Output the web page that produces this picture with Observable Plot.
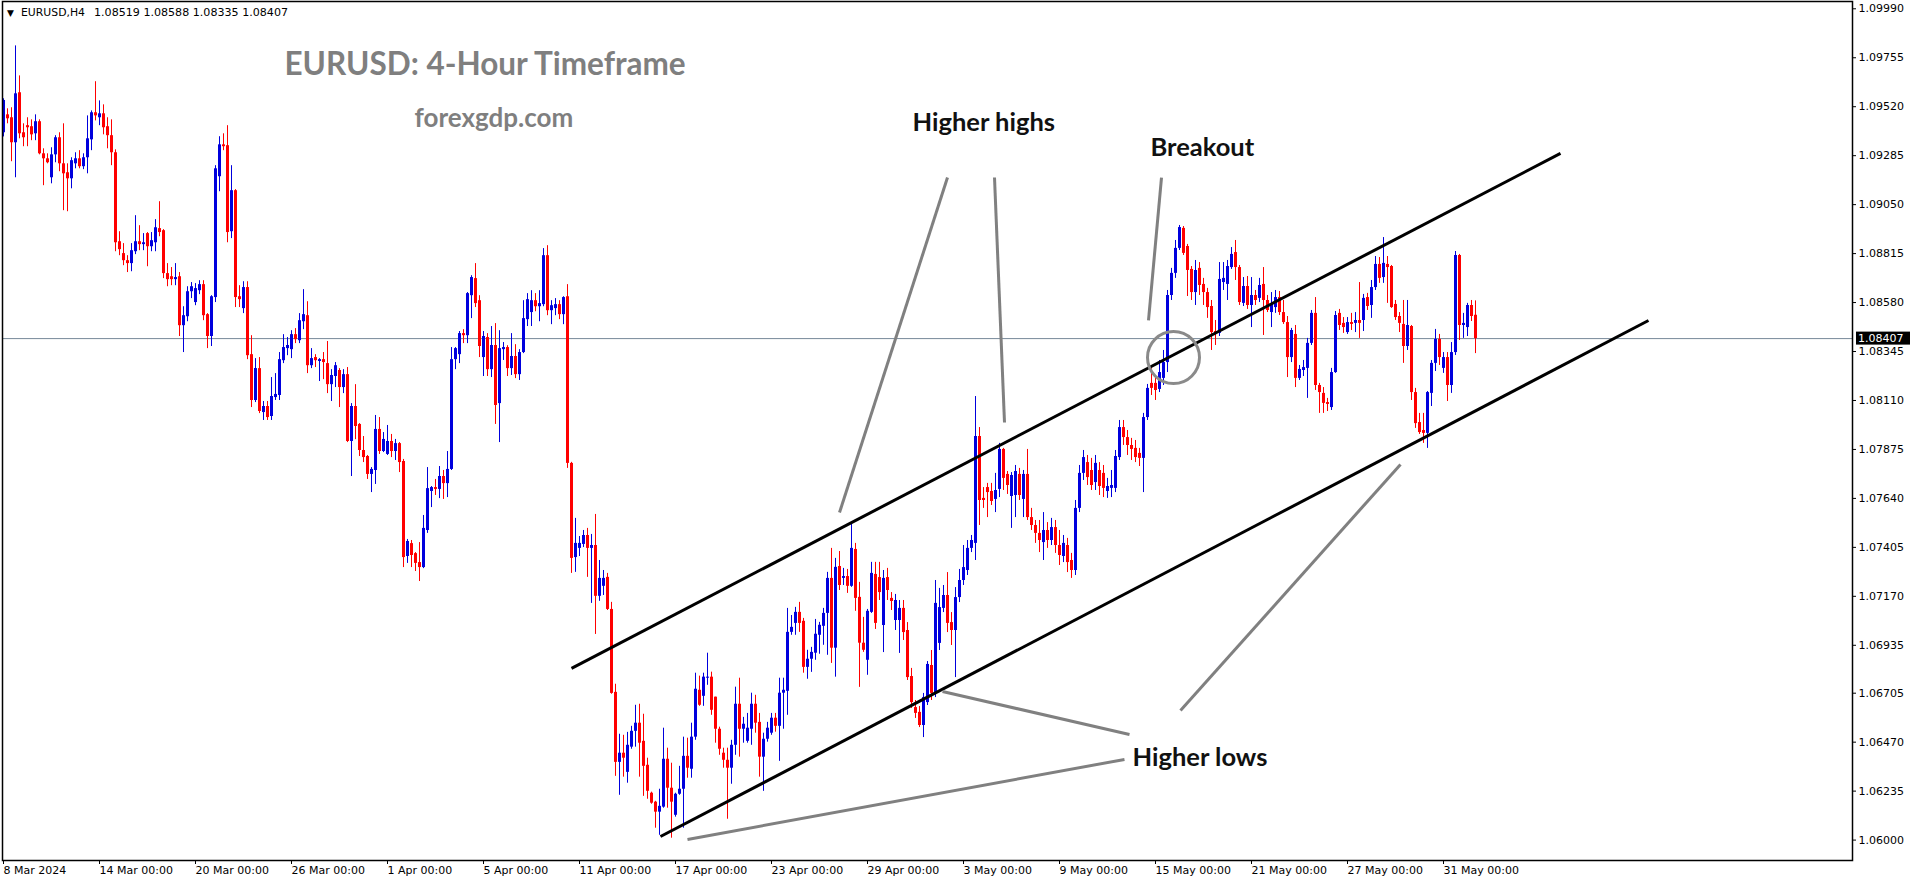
<!DOCTYPE html>
<html><head><meta charset="utf-8">
<script src="https://cdn.jsdelivr.net/npm/d3@7"></script>
<script src="https://cdn.jsdelivr.net/npm/@observablehq/plot@0.6"></script>
<style>html,body{margin:0;padding:0;background:#fff;overflow:hidden}</style>
</head><body><div id="chart"></div>
<script>
const symbol = "EURUSD,H4";
const open = [
1.09395,1.09481,1.09467,1.09347,1.09587,1.09395,1.09429,1.09424,1.09390,1.09448,
1.09294,1.09270,1.09179,1.09289,1.09371,1.09246,1.09203,1.09174,1.09246,1.09270,
1.09232,1.09275,1.09361,1.09491,1.09467,1.09486,1.09424,1.09381,1.09299,1.08872,
1.08815,1.08781,1.08767,1.08824,1.08872,1.08858,1.08911,1.08848,1.08867,1.08935,
1.08925,1.08719,1.08704,1.08690,1.08704,1.08469,1.08512,1.08632,1.08580,1.08637,
1.08666,1.08522,1.08417,1.08604,1.09184,1.09337,1.09333,1.08920,1.09117,1.08608,
1.08551,1.08652,1.08330,1.08110,1.08263,1.08052,1.08081,1.08033,1.08124,1.08134,
1.08301,1.08359,1.08354,1.08426,1.08397,1.08488,1.08517,1.08277,1.08316,1.08297,
1.08306,1.08287,1.08186,1.08225,1.08254,1.08172,1.08234,1.07913,1.08081,1.07995,
1.07870,1.07841,1.07755,1.07774,1.07971,1.07865,1.07851,1.07913,1.07865,1.07903,
1.07817,1.07361,1.07423,1.07375,1.07332,1.07308,1.07486,1.07673,1.07692,1.07683,
1.07745,1.07711,1.07779,1.08306,1.08330,1.08431,1.08421,1.08613,1.08695,1.08589,
1.08316,1.08412,1.08258,1.08374,1.08095,1.08354,1.08364,1.08263,1.08321,1.08234,
1.08340,1.08498,1.08532,1.08589,1.08560,1.08570,1.08805,1.08541,1.08551,1.08570,
1.08522,1.08608,1.07808,1.07356,1.07400,1.07419,1.07462,1.07400,1.07414,1.07170,
1.07218,1.07261,1.07107,1.06709,1.06373,1.06417,1.06325,1.06446,1.06522,1.06561,
1.06474,1.06359,1.06225,1.06182,1.06134,1.06158,1.06388,1.06249,1.06119,1.06220,
1.06244,1.06402,1.06340,1.06494,1.06719,1.06690,1.06777,1.06782,1.06686,1.06532,
1.06417,1.06383,1.06345,1.06455,1.06652,1.06532,1.06474,1.06532,1.06652,1.06565,
1.06398,1.06484,1.06513,1.06585,1.06546,1.06705,1.06714,1.06997,1.07040,1.07093,
1.07050,1.06829,1.06868,1.06897,1.06983,1.07026,1.07088,1.07256,1.06921,1.07313,
1.07256,1.07265,1.07218,1.07395,1.07165,1.06945,1.06863,1.07093,1.07275,1.07260,
1.07030,1.07260,1.07160,1.07054,1.07054,1.07112,1.07006,1.06785,1.06636,1.06613,
1.06550,1.06660,1.06838,1.06704,1.06944,1.07112,1.07174,1.07044,1.07006,1.07164,
1.07246,1.07294,1.07400,1.07424,1.07937,1.07640,1.07692,1.07673,1.07635,1.07683,
1.07875,1.07755,1.07649,1.07654,1.07755,1.07635,1.07755,1.07548,1.07510,1.07472,
1.07428,1.07486,1.07438,1.07500,1.07414,1.07361,1.07414,1.07342,1.07294,1.07592,
1.07760,1.07812,1.07774,1.07716,1.07774,1.07760,1.07673,1.07688,1.07688,1.07836,
1.07980,1.07932,1.07894,1.07880,1.07856,1.07832,1.08028,1.08192,1.08192,1.08163,
1.08216,1.08292,1.08614,1.08720,1.08840,1.08936,1.08849,1.08739,1.08628,1.08744,
1.08667,1.08628,1.08561,1.08441,1.08432,1.08676,1.08667,1.08748,1.08820,1.08748,
1.08576,1.08657,1.08566,1.08614,1.08600,1.08667,1.08590,1.08532,1.08556,1.08604,
1.08532,1.08484,1.08316,1.08427,1.08216,1.08254,1.08264,1.08384,1.08528,1.08182,
1.08144,1.08100,1.08076,1.08244,1.08528,1.08480,1.08436,1.08484,1.08480,1.08494,
1.08494,1.08604,1.08566,1.08652,1.08763,1.08700,1.08763,1.08753,1.08571,1.08513,
1.08475,1.08369,1.08465,1.08148,1.08004,1.07966,1.07952,1.08144,1.08288,1.08403,
1.08264,1.08316,1.08182,1.08340,1.08806,1.08470,1.08460,1.08566,1.08519];
const high = [
1.09558,1.09510,1.09515,1.09812,1.09668,1.09438,1.09467,1.09457,1.09481,1.09457,
1.09318,1.09294,1.09323,1.09381,1.09395,1.09438,1.09246,1.09275,1.09299,1.09309,
1.09294,1.09476,1.09500,1.09640,1.09548,1.09529,1.09467,1.09457,1.09313,1.08920,
1.08863,1.08805,1.08863,1.08997,1.08949,1.08911,1.08916,1.08916,1.08978,1.09064,
1.08930,1.08767,1.08748,1.08767,1.08724,1.08560,1.08656,1.08676,1.08671,1.08685,
1.08685,1.08527,1.08613,1.09237,1.09376,1.09390,1.09429,1.09237,1.09122,1.08661,
1.08680,1.08680,1.08421,1.08311,1.08316,1.08105,1.08105,1.08220,1.08239,1.08340,
1.08426,1.08412,1.08445,1.08455,1.08527,1.08642,1.08584,1.08359,1.08330,1.08311,
1.08340,1.08393,1.08258,1.08292,1.08263,1.08258,1.08268,1.08095,1.08186,1.07999,
1.07937,1.07846,1.07788,1.08038,1.08028,1.07956,1.07990,1.07947,1.07923,1.07908,
1.07827,1.07443,1.07438,1.07380,1.07428,1.07558,1.07788,1.07697,1.07731,1.07793,
1.07774,1.07865,1.08364,1.08364,1.08441,1.08450,1.08628,1.08709,1.08767,1.08613,
1.08441,1.08431,1.08465,1.08479,1.08445,1.08388,1.08373,1.08431,1.08378,1.08354,
1.08589,1.08623,1.08637,1.08623,1.08637,1.08839,1.08853,1.08589,1.08599,1.08589,
1.08608,1.08666,1.07813,1.07544,1.07457,1.07486,1.07496,1.07467,1.07563,1.07342,
1.07294,1.07280,1.07141,1.06748,1.06508,1.06503,1.06517,1.06546,1.06647,1.06652,
1.06604,1.06393,1.06230,1.06186,1.06244,1.06537,1.06441,1.06369,1.06225,1.06354,
1.06494,1.06489,1.06561,1.06801,1.06787,1.06801,1.06897,1.06806,1.06686,1.06542,
1.06441,1.06441,1.06479,1.06734,1.06777,1.06589,1.06608,1.06705,1.06695,1.06608,
1.06513,1.06565,1.06608,1.06608,1.06777,1.06777,1.07112,1.07078,1.07117,1.07141,
1.07064,1.06911,1.06925,1.07059,1.07045,1.07112,1.07285,1.07400,1.07352,1.07385,
1.07304,1.07299,1.07520,1.07424,1.07237,1.07069,1.07107,1.07333,1.07333,1.07333,
1.07294,1.07304,1.07188,1.07179,1.07150,1.07150,1.07044,1.06824,1.06670,1.06641,
1.06704,1.06857,1.06910,1.07246,1.07208,1.07222,1.07284,1.07092,1.07212,1.07299,
1.07414,1.07438,1.07462,1.08129,1.07980,1.07692,1.07712,1.07712,1.07760,1.07904,
1.07880,1.07769,1.07764,1.07798,1.07784,1.07774,1.07875,1.07592,1.07534,1.07534,
1.07572,1.07524,1.07544,1.07534,1.07486,1.07462,1.07448,1.07376,1.07630,1.07798,
1.07870,1.07846,1.07832,1.07846,1.07812,1.07798,1.07736,1.07774,1.07870,1.08014,
1.08014,1.07966,1.07928,1.07918,1.07880,1.08048,1.08187,1.08268,1.08216,1.08302,
1.08350,1.08638,1.08744,1.08878,1.08950,1.08945,1.08859,1.08753,1.08782,1.08772,
1.08696,1.08648,1.08590,1.08494,1.08772,1.08772,1.08782,1.08844,1.08878,1.08758,
1.08700,1.08705,1.08700,1.08638,1.08696,1.08748,1.08614,1.08628,1.08638,1.08633,
1.08590,1.08513,1.08456,1.08470,1.08278,1.08302,1.08408,1.08542,1.08604,1.08192,
1.08172,1.08120,1.08264,1.08537,1.08547,1.08508,1.08508,1.08528,1.08532,1.08676,
1.08619,1.08624,1.08686,1.08801,1.08796,1.08892,1.08801,1.08758,1.08590,1.08532,
1.08590,1.08590,1.08470,1.08168,1.08048,1.08048,1.08153,1.08302,1.08451,1.08427,
1.08340,1.08340,1.08388,1.08825,1.08811,1.08528,1.08576,1.08590,1.08588];
const low = [
1.09375,1.09438,1.09256,1.09179,1.09366,1.09328,1.09328,1.09357,1.09357,1.09289,
1.09141,1.09246,1.09150,1.09251,1.09208,1.09021,1.09016,1.09126,1.09222,1.09222,
1.09218,1.09198,1.09309,1.09452,1.09429,1.09385,1.09318,1.09237,1.08824,1.08805,
1.08757,1.08724,1.08728,1.08810,1.08829,1.08829,1.08752,1.08824,1.08824,1.08896,
1.08695,1.08656,1.08661,1.08661,1.08417,1.08340,1.08488,1.08599,1.08565,1.08618,
1.08493,1.08359,1.08369,1.08580,1.09112,1.09309,1.08867,1.08887,1.08556,1.08556,
1.08527,1.08306,1.08076,1.08100,1.08047,1.08014,1.08014,1.08014,1.08110,1.08110,
1.08287,1.08325,1.08311,1.08383,1.08383,1.08450,1.08239,1.08263,1.08268,1.08201,
1.08210,1.08143,1.08105,1.08172,1.08076,1.08143,1.07908,1.07745,1.07922,1.07841,
1.07812,1.07731,1.07668,1.07707,1.07851,1.07860,1.07846,1.07836,1.07822,1.07764,
1.07308,1.07328,1.07308,1.07289,1.07241,1.07303,1.07472,1.07596,1.07654,1.07639,
1.07635,1.07644,1.07774,1.08258,1.08287,1.08383,1.08383,1.08503,1.08556,1.08316,
1.08225,1.08225,1.08220,1.07995,1.07908,1.08302,1.08225,1.08230,1.08215,1.08206,
1.08335,1.08465,1.08465,1.08536,1.08488,1.08560,1.08517,1.08474,1.08517,1.08498,
1.08474,1.07784,1.07280,1.07285,1.07361,1.07404,1.07261,1.07136,1.06987,1.07146,
1.07174,1.07102,1.06700,1.06306,1.06215,1.06302,1.06273,1.06436,1.06446,1.06302,
1.06210,1.06196,1.06172,1.06057,1.06023,1.06153,1.06153,1.06009,1.06110,1.06215,
1.06057,1.06297,1.06297,1.06479,1.06642,1.06642,1.06743,1.06599,1.06465,1.06407,
1.06345,1.06100,1.06268,1.06407,1.06398,1.06465,1.06465,1.06455,1.06513,1.06302,
1.06234,1.06470,1.06503,1.06518,1.06378,1.06532,1.06599,1.06983,1.06983,1.06997,
1.06801,1.06772,1.06805,1.06863,1.06892,1.06935,1.06887,1.06848,1.06782,1.07198,
1.07222,1.07184,1.07213,1.07098,1.06733,1.06901,1.06791,1.07088,1.07011,1.07150,
1.06900,1.07150,1.07102,1.07006,1.06896,1.06958,1.06766,1.06632,1.06584,1.06540,
1.06492,1.06646,1.06670,1.06684,1.06910,1.07092,1.06996,1.06934,1.06780,1.07140,
1.07222,1.07270,1.07380,1.07342,1.07510,1.07592,1.07548,1.07606,1.07572,1.07644,
1.07678,1.07659,1.07496,1.07548,1.07630,1.07548,1.07534,1.07486,1.07424,1.07380,
1.07342,1.07400,1.07414,1.07376,1.07318,1.07332,1.07284,1.07256,1.07270,1.07572,
1.07726,1.07702,1.07678,1.07678,1.07654,1.07644,1.07640,1.07644,1.07668,1.07822,
1.07894,1.07846,1.07822,1.07812,1.07793,1.07668,1.08014,1.08134,1.08110,1.08148,
1.08182,1.08244,1.08590,1.08696,1.08830,1.08806,1.08609,1.08590,1.08566,1.08614,
1.08566,1.08504,1.08350,1.08374,1.08417,1.08638,1.08590,1.08739,1.08686,1.08566,
1.08561,1.08547,1.08460,1.08566,1.08580,1.08422,1.08532,1.08460,1.08528,1.08518,
1.08475,1.08220,1.08292,1.08172,1.08206,1.08225,1.08120,1.08374,1.08158,1.08048,
1.08048,1.08057,1.08062,1.08240,1.08446,1.08432,1.08427,1.08446,1.08436,1.08408,
1.08441,1.08542,1.08504,1.08638,1.08672,1.08672,1.08576,1.08552,1.08494,1.08436,
1.08288,1.08350,1.08110,1.07976,1.07947,1.07904,1.07880,1.08081,1.08249,1.08278,
1.08240,1.08105,1.08144,1.08326,1.08398,1.08408,1.08417,1.08489,1.08335];
const close = [
1.09550,1.09462,1.09347,1.09582,1.09390,1.09371,1.09419,1.09385,1.09448,1.09294,
1.09270,1.09251,1.09289,1.09371,1.09246,1.09198,1.09174,1.09261,1.09270,1.09232,
1.09275,1.09366,1.09491,1.09476,1.09486,1.09419,1.09381,1.09299,1.08867,1.08834,
1.08781,1.08767,1.08829,1.08872,1.08858,1.08867,1.08848,1.08877,1.08939,1.08916,
1.08719,1.08690,1.08690,1.08700,1.08469,1.08517,1.08632,1.08656,1.08647,1.08666,
1.08517,1.08417,1.08608,1.09222,1.09337,1.09328,1.08916,1.09117,1.08604,1.08594,
1.08652,1.08325,1.08110,1.08263,1.08057,1.08081,1.08028,1.08129,1.08139,1.08306,
1.08364,1.08374,1.08426,1.08402,1.08493,1.08522,1.08277,1.08311,1.08301,1.08306,
1.08292,1.08186,1.08230,1.08277,1.08172,1.08234,1.07913,1.08081,1.07985,1.07870,
1.07836,1.07755,1.07779,1.07971,1.07865,1.07923,1.07913,1.07865,1.07903,1.07812,
1.07356,1.07433,1.07366,1.07328,1.07308,1.07496,1.07687,1.07692,1.07683,1.07745,
1.07711,1.07779,1.08306,1.08359,1.08431,1.08421,1.08623,1.08700,1.08575,1.08369,
1.08417,1.08258,1.08374,1.08086,1.08359,1.08364,1.08263,1.08321,1.08234,1.08340,
1.08503,1.08594,1.08589,1.08560,1.08575,1.08805,1.08541,1.08565,1.08570,1.08522,
1.08604,1.07808,1.07352,1.07424,1.07424,1.07462,1.07400,1.07414,1.07170,1.07256,
1.07256,1.07107,1.06704,1.06373,1.06417,1.06393,1.06455,1.06522,1.06561,1.06465,
1.06354,1.06234,1.06177,1.06134,1.06162,1.06388,1.06249,1.06182,1.06220,1.06244,
1.06402,1.06345,1.06494,1.06724,1.06647,1.06782,1.06782,1.06623,1.06532,1.06436,
1.06383,1.06345,1.06455,1.06652,1.06532,1.06556,1.06537,1.06652,1.06561,1.06398,
1.06484,1.06537,1.06585,1.06546,1.06705,1.06719,1.06997,1.07021,1.07093,1.07040,
1.06829,1.06868,1.06901,1.06988,1.07031,1.07088,1.07256,1.06921,1.07309,1.07222,
1.07265,1.07218,1.07400,1.07160,1.06945,1.06911,1.07098,1.07280,1.07040,1.07188,
1.07256,1.07198,1.07145,1.07150,1.07112,1.06996,1.06780,1.06660,1.06608,1.06550,
1.06684,1.06843,1.06704,1.07136,1.07116,1.07174,1.07040,1.07006,1.07164,1.07246,
1.07308,1.07400,1.07438,1.07937,1.07630,1.07630,1.07668,1.07625,1.07678,1.07875,
1.07736,1.07702,1.07750,1.07769,1.07654,1.07755,1.07548,1.07510,1.07472,1.07438,
1.07486,1.07438,1.07500,1.07414,1.07366,1.07424,1.07332,1.07294,1.07592,1.07760,
1.07836,1.07740,1.07702,1.07808,1.07697,1.07688,1.07697,1.07702,1.07841,1.07980,
1.07932,1.07894,1.07875,1.07836,1.07832,1.08028,1.08168,1.08168,1.08158,1.08244,
1.08292,1.08614,1.08720,1.08840,1.08940,1.08816,1.08734,1.08628,1.08734,1.08662,
1.08628,1.08556,1.08436,1.08432,1.08691,1.08696,1.08753,1.08811,1.08748,1.08580,
1.08657,1.08566,1.08614,1.08590,1.08662,1.08590,1.08542,1.08571,1.08604,1.08532,
1.08484,1.08316,1.08446,1.08216,1.08259,1.08268,1.08384,1.08528,1.08182,1.08148,
1.08096,1.08091,1.08244,1.08518,1.08470,1.08460,1.08484,1.08475,1.08494,1.08480,
1.08600,1.08561,1.08652,1.08763,1.08696,1.08768,1.08748,1.08556,1.08508,1.08480,
1.08369,1.08470,1.08148,1.07999,1.07956,1.07952,1.08148,1.08288,1.08403,1.08316,
1.08316,1.08182,1.08340,1.08806,1.08470,1.08480,1.08566,1.08513,1.08407];

// time axis: bar index of each label and its text
const xTickIndex = [0,24,48,72,96,120,144,168,192,216,240,264,288,312,336,360];
const xTickLabels = ["8 Mar 2024","14 Mar 00:00","20 Mar 00:00","26 Mar 00:00","1 Apr 00:00","5 Apr 00:00","11 Apr 00:00","17 Apr 00:00","23 Apr 00:00","29 Apr 00:00","3 May 00:00","9 May 00:00","15 May 00:00","21 May 00:00","27 May 00:00","31 May 00:00"];
const yTicks = [1.09990,1.09755,1.09520,1.09285,1.09050,1.08815,1.08580,1.08345,1.08110,1.07875,1.07640,1.07405,1.07170,1.06935,1.06705,1.06470,1.06235,1.06000];

// drawn objects (bar index, price)
const channelX1 = [142, 164.25];
const channelY1 = [1.06824, 1.06017];
const channelX2 = [389.25, 411.25];
const channelY2 = [1.09296, 1.08494];
const pointerX1 = [209, 250.25, 286.25, 234.75, 171, 294.25];
const pointerY1 = [1.07572, 1.08004, 1.08494, 1.06713, 1.06003, 1.06622];
const pointerX2 = [236, 247.75, 289.5, 281.5, 280.25, 349.25];
const pointerY2 = [1.09180, 1.09180, 1.09180, 1.06507, 1.06387, 1.07803];
const circleX = [292.5];
const circleY = [1.08316];
const noteText = ["Higher highs","Breakout","Higher lows"];
const noteX = [227.25, 286.75, 282.25];
const noteY = [1.09444, 1.09324, 1.06396];
const titleText = ["EURUSD: 4-Hour Timeframe","forexgdp.com"];
const titleX = [70.25, 102.75];
const titleY = [1.09720, 1.09464];
const titleSize = [31.5, 26];

const FONT = "DejaVu Sans";
const UP = "#0000dd", DOWN = "#ff0000";
const bars = open.map((o, i) => ({i, open: o, high: Math.max(high[i], o, close[i]), low: Math.min(low[i], o, close[i]), close: close[i]}));
const upBars = bars.filter(d => d.close >= d.open);
const downBars = bars.filter(d => d.close < d.open);
const last = bars[bars.length - 1];
const labelOf = new Map(xTickIndex.map((v, k) => [v, xTickLabels[k]]));
const channels = channelX1.map((x1, k) => ({x1, y1: channelY1[k], x2: channelX2[k], y2: channelY2[k]}));
const pointers = pointerX1.map((x1, k) => ({x1, y1: pointerY1[k], x2: pointerX2[k], y2: pointerY2[k]}));
const notes = noteText.map((t, k) => ({t, x: noteX[k], y: noteY[k]}));
const titles = titleText.map((t, k) => ({t, x: titleX[k], y: titleY[k], s: titleSize[k]}));
const fmt = v => v.toFixed(5);

const chart = Plot.plot({
  width: 1916, height: 884,
  marginLeft: 2, marginRight: 64, marginTop: 1, marginBottom: 24,
  x: {domain: [-0.25, 462.25]},
  y: {domain: [1.05902, 1.10025]},
  style: {background: "white", fontFamily: FONT, fontSize: "11px", color: "black"},
  marks: [
    Plot.ruleY([last.close], {stroke: "#778899", strokeWidth: 1}),
    Plot.ruleX(upBars, {x: "i", y1: "low", y2: "high", stroke: UP, strokeWidth: 1}),
    Plot.ruleX(upBars, {x: "i", y1: "open", y2: "close", stroke: UP, strokeWidth: 3}),
    Plot.ruleX(downBars, {x: "i", y1: "low", y2: "high", stroke: DOWN, strokeWidth: 1}),
    Plot.ruleX(downBars, {x: "i", y1: "open", y2: "close", stroke: DOWN, strokeWidth: 3}),
    Plot.link(channels, {x1: "x1", y1: "y1", x2: "x2", y2: "y2", stroke: "black", strokeWidth: 3}),
    Plot.link(pointers, {x1: "x1", y1: "y1", x2: "x2", y2: "y2", stroke: "#808080", strokeWidth: 3}),
    Plot.dot(circleX.map((x, k) => ({x, y: circleY[k]})), {x: "x", y: "y", r: 26, stroke: "#8a8a8a", strokeWidth: 3, fill: "none"}),
    Plot.text(titles, {x: "x", y: "y", text: "t", fontSize: d => d.s, fontFamily: "Lato", fontWeight: "bold", fill: "#7f7f7f", textAnchor: "start"}),
    Plot.text(notes, {x: "x", y: "y", text: "t", fontSize: 25.5, fontFamily: "Lato", fontWeight: "bold", fill: "#111", textAnchor: "start"}),
    Plot.axisY({anchor: "right", ticks: yTicks, tickFormat: fmt, tickSize: 3, tickPadding: 3, fontSize: 11, fontFamily: FONT, textAnchor: "start"}),
    Plot.axisX({anchor: "bottom", ticks: xTickIndex, tickFormat: d => labelOf.get(d), tickSize: 4, tickPadding: 2, fontSize: 11, fontFamily: FONT, textAnchor: "start"}),
    Plot.frame({stroke: "black", strokeWidth: 1.5})
  ]
});
document.getElementById("chart").appendChild(chart);

// header and current price label, positioned from the plot's own scales
const ys = chart.scale("y"), xs = chart.scale("x");
const xLeft = xs.range[0], xRight = xs.range[1], yTop = ys.range[1];
const g = d3.select(chart).append("g").attr("font-family", FONT).attr("text-anchor", "start");
const header = [
  {t: "\u25BC", dx: 5, size: 9, len: null},
  {t: symbol, dx: 19, size: 11, len: 64},
  {t: [last.open, last.high, last.low, last.close].map(fmt).join(" "), dx: 92, size: 11, len: 194}
];
g.selectAll("text.hdr").data(header).join("text").attr("class", "hdr")
  .attr("x", d => xLeft + d.dx).attr("y", yTop + 11.5).attr("dy", "0.35em")
  .attr("font-size", d => d.size).attr("fill", "black")
  .attr("textLength", d => d.len).attr("lengthAdjust", "spacingAndGlyphs")
  .text(d => d.t);
const yPix = ys.apply(last.close);
g.append("rect").attr("x", xRight + 4).attr("y", yPix - 6.5).attr("width", 54).attr("height", 13).attr("fill", "black");
g.append("text").attr("x", xRight + 6).attr("y", yPix).attr("dy", "0.35em").attr("fill", "white")
  .attr("font-size", 11).text(fmt(last.close));
</script>
</body></html>
